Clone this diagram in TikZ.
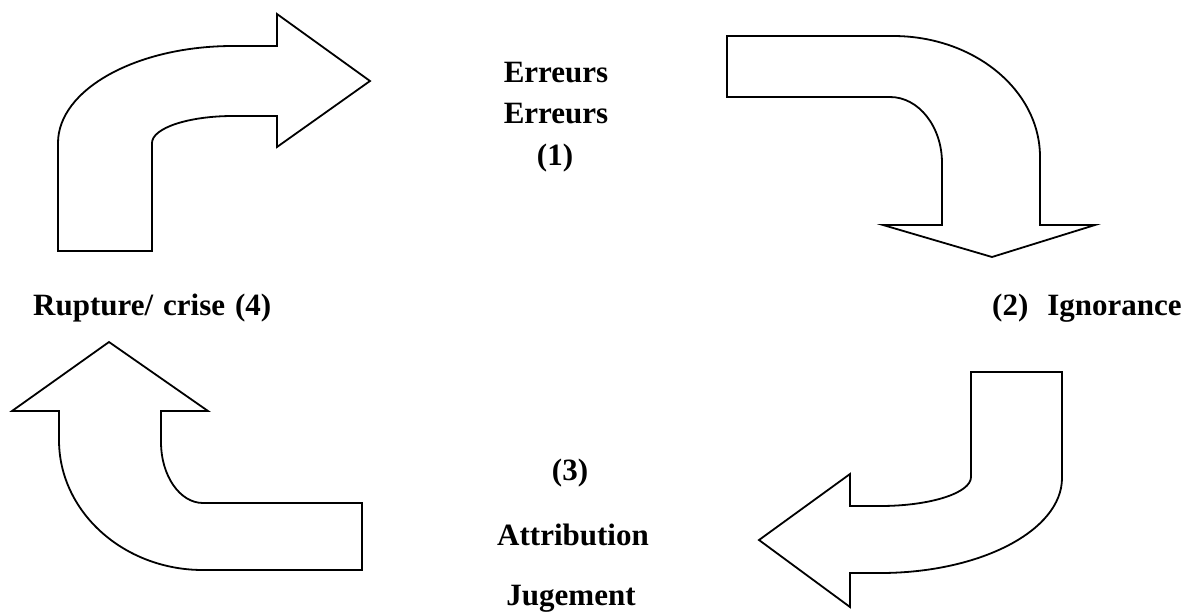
\documentclass[tikz,border=0pt]{standalone}
\usepackage{fontspec}
\setmainfont{Liberation Serif}
\begin{document}
\begin{tikzpicture}[x=1pt,y=-1pt,
  bigarrow/.style={draw=black,line width=1.8pt,line join=miter,fill=white},
  lbl/.style={inner sep=0pt,font=\fontsize{31}{36}\selectfont\bfseries}]
\useasboundingbox (0,0) rectangle (1190,611);
% arrow 1 (top left, pointing right)
\draw[bigarrow] (58,251) -- (58,143)
  .. controls (58,89.5) and (136.4,46) .. (233,46)
  -- (277,46) -- (277,14) -- (370,81) -- (277,147) -- (277,116) -- (233,116)
  .. controls (188.3,116) and (152,128.1) .. (152,143)
  -- (152,251) -- cycle;
% arrow 2 (top right, pointing down)
\draw[bigarrow] (727,36) -- (893,36)
  .. controls (974.1,36) and (1040,90.2) .. (1040,157)
  -- (1040,225) -- (1095,225) -- (992,257) -- (883,225) -- (942,225) -- (942,163)
  .. controls (942,126.6) and (918.7,97) .. (890,97)
  -- (727,97) -- cycle;
% arrow 3 (bottom right, pointing left)
\draw[bigarrow] (971,372) -- (1062,372) -- (1062,478)
  .. controls (1062,530.4) and (980.5,573) .. (880,573)
  -- (850,573) -- (850,607) -- (759,540) -- (850,474) -- (850,506) -- (880,506)
  .. controls (930.2,506) and (971,493) .. (971,477)
  -- cycle;
% arrow 4 (bottom left, pointing up)
\draw[bigarrow] (109,342) -- (208,411) -- (161,411) -- (161,442)
  .. controls (161,475.7) and (179.8,503) .. (203,503)
  -- (362,503) -- (362,570) -- (203,570)
  .. controls (123.5,570) and (59,511.8) .. (59,440)
  -- (59,411) -- (12,411) -- cycle;
% labels
\node[lbl,anchor=base] (e1) at (556,82) {Erreurs};
\node[lbl,anchor=base] (e2) at (556,123) {Erreurs};
\node[lbl,anchor=base] (n1) at (555,165) {(1)};
\node[lbl,anchor=base west] (n4) at (33,315) {Rupture/\hspace{10pt}crise\hspace{10pt}(4)};
\node[lbl,anchor=base west] (n2) at (992,315) {(2)\hspace{19pt}Ignorance};
\node[lbl,anchor=base] (n3) at (570,480) {(3)};
\node[lbl,anchor=base] (att) at (573,545) {Attribution};
\node[lbl,anchor=base] (jug) at (571,605) {Jugement};
\end{tikzpicture}
\end{document}
